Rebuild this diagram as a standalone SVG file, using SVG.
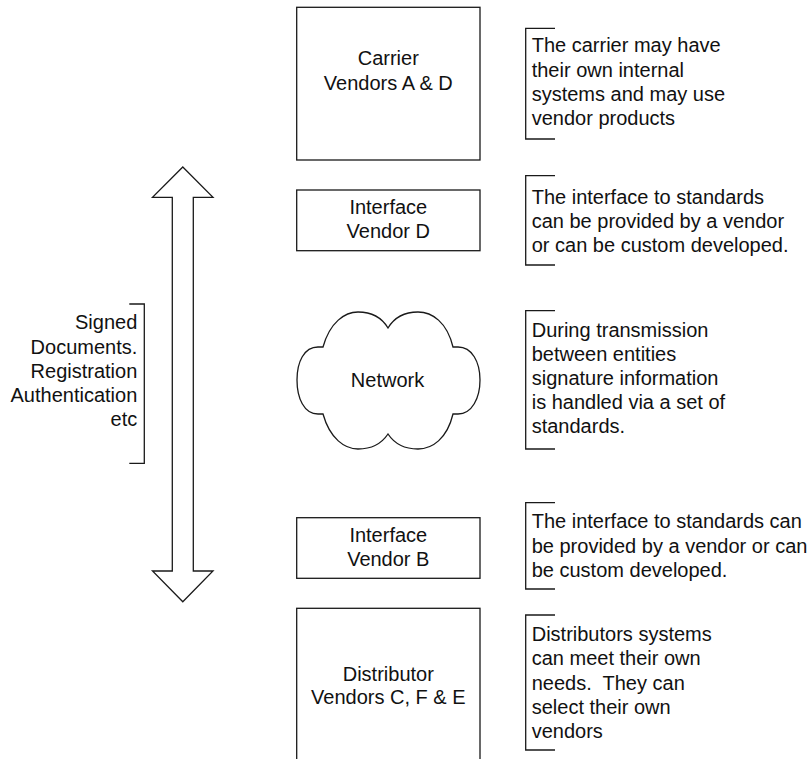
<svg xmlns="http://www.w3.org/2000/svg" width="810" height="759" viewBox="0 0 810 759">
<style>
  .box { fill: #fff; stroke: #1a1a1a; stroke-width: 1.3; }
  .brk { fill: none; stroke: #1a1a1a; stroke-width: 1.3; }
  .t { font-family: "Liberation Sans", Arial, sans-serif; font-size: 20px; fill: #111; }
  .c { text-anchor: middle; }
  .e { text-anchor: end; }
  .pre { white-space: pre; }
</style>
<rect width="810" height="759" fill="#fff"/>
<g id="connectors">
  <path id="double-arrow" class="box" d="M182.8,167 L213,197.3 L193.3,197.3 L193.3,571 L213,571 L182.8,601.7 L152.5,571 L172.3,571 L172.3,197.3 L152.5,197.3 Z"/>
</g>
<g id="carrier">
  <rect class="box" x="296.7" y="7.3" width="183.3" height="152.7"/>
  <text class="t c" x="388.3" y="65.3">Carrier</text>
  <text class="t c" x="388.3" y="90">Vendors A &amp; D</text>
</g>
<g id="interface-d">
  <rect class="box" x="296.7" y="190" width="183.3" height="60.7"/>
  <text class="t c" x="388.3" y="214">Interface</text>
  <text class="t c" x="388.3" y="237.5">Vendor D</text>
</g>
<g id="network">
  <path class="box" d="M323,347 C330,322 345,312 358,312 C372,312 382,318 388,328 C394,318 404,312 418,312 C432,312 447,322 453,347 L458,347 C472,347 480,362 480,380 C480,398 472,414 458,414 L453,414 C447,439 432,449 418,449 C404,449 394,443 388,434 C382,443 372,449 358,449 C345,449 330,439 323,414 L318,414 C304,414 297,398 297,380 C297,362 304,347 318,347 Z"/>
  <text class="t c" x="387.5" y="387">Network</text>
</g>
<g id="interface-b">
  <rect class="box" x="296.7" y="517.7" width="183.3" height="60.6"/>
  <text class="t c" x="388.3" y="541.7">Interface</text>
  <text class="t c" x="388.3" y="565.5">Vendor B</text>
</g>
<g id="distributor">
  <rect class="box" x="296.7" y="608.3" width="183.3" height="153"/>
  <text class="t c" x="388.3" y="680.5">Distributor</text>
  <text class="t c" x="388.3" y="704">Vendors C, F &amp; E</text>
</g>
<g id="note-signed">
  <path class="brk" d="M129.3,304 H144.3 V463.3 H129.3"/>
  <text class="t e" x="137.3" y="329.3">Signed</text>
  <text class="t e" x="137.3" y="353.5">Documents.</text>
  <text class="t e" x="137.3" y="377.7">Registration</text>
  <text class="t e" x="137.3" y="401.9">Authentication</text>
  <text class="t e" x="137.3" y="426.1">etc</text>
</g>
<g id="note-carrier">
  <path class="brk" d="M555,28.3 H525.7 V139 H555"/>
  <text class="t" x="531.7" y="52.3">The carrier may have</text>
  <text class="t" x="531.7" y="76.6">their own internal</text>
  <text class="t" x="531.7" y="100.9">systems and may use</text>
  <text class="t" x="531.7" y="125.2">vendor products</text>
</g>
<g id="note-interface-d">
  <path class="brk" d="M555,175.7 H525.7 V265 H555"/>
  <text class="t" x="531.7" y="203.5">The interface to standards</text>
  <text class="t" x="531.7" y="227.8">can be provided by a vendor</text>
  <text class="t" x="531.7" y="252.1">or can be custom developed.</text>
</g>
<g id="note-network">
  <path class="brk" d="M555,310.7 H525.7 V449 H555"/>
  <text class="t" x="531.7" y="336.7">During transmission</text>
  <text class="t" x="531.7" y="360.8">between entities</text>
  <text class="t" x="531.7" y="384.9">signature information</text>
  <text class="t" x="531.7" y="409">is handled via a set of</text>
  <text class="t" x="531.7" y="433.1">standards.</text>
</g>
<g id="note-interface-b">
  <path class="brk" d="M555,502.7 H525.7 V589 H555"/>
  <text class="t" x="531.7" y="528.3">The interface to standards can</text>
  <text class="t" x="531.7" y="552.6">be provided by a vendor or can</text>
  <text class="t" x="531.7" y="576.9">be custom developed.</text>
</g>
<g id="note-distributor">
  <path class="brk" d="M555,615 H525.7 V750 H555"/>
  <text class="t" x="531.7" y="641">Distributors systems</text>
  <text class="t" x="531.7" y="665.3">can meet their own</text>
  <text class="t pre" x="531.7" y="689.6" xml:space="preserve">needs.  They can</text>
  <text class="t" x="531.7" y="713.9">select their own</text>
  <text class="t" x="531.7" y="738.2">vendors</text>
</g>
</svg>
